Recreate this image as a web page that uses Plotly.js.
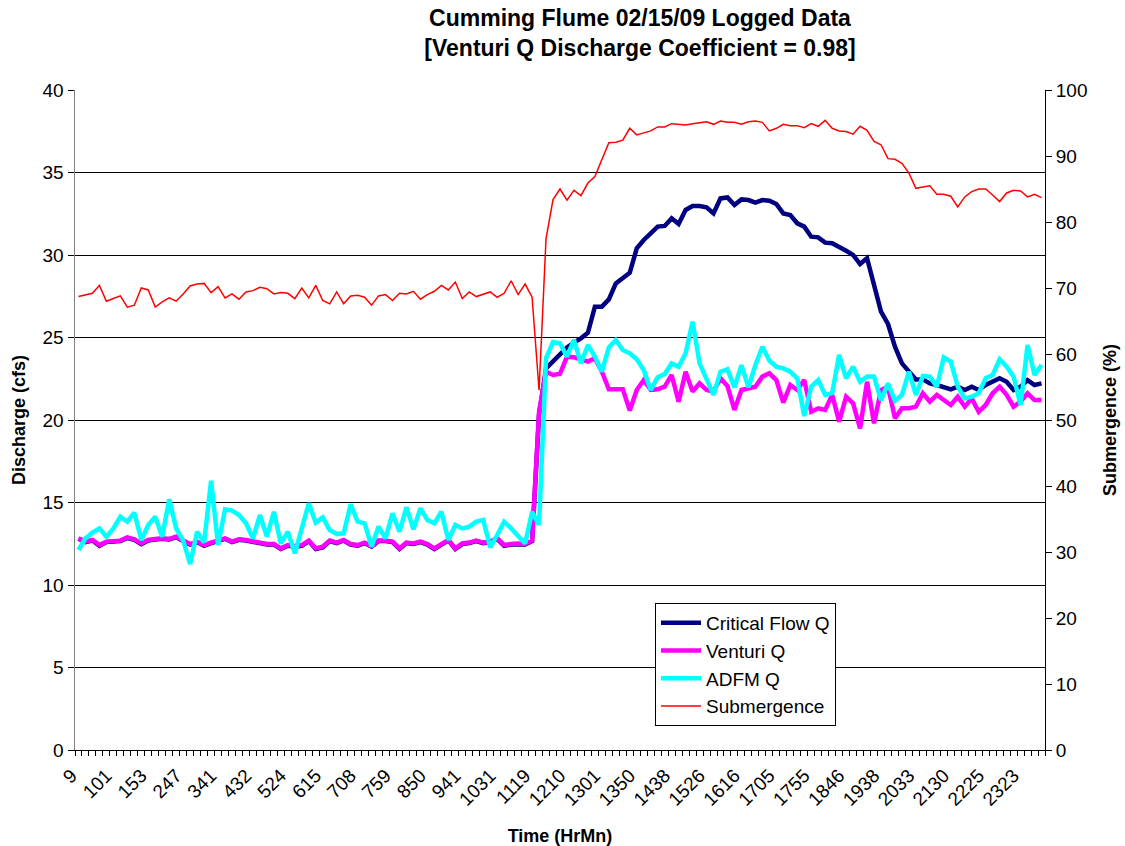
<!DOCTYPE html>
<html>
<head>
<meta charset="utf-8">
<script src="https://cdn.plot.ly/plotly-3.0.1.min.js"></script>
<style>html,body{margin:0;padding:0;background:#fff;}</style>
</head>
<body>
<div id="chart" style="width:1125px;height:846px;"></div>
<script>
const timeLabels = ["9","101","153","247","341","432","524","615","708","759","850","941","1031","1119","1210","1301","1350","1438","1526","1616","1705","1755","1846","1938","2033","2130","2225","2323"];

const criticalQ = [
12.80,12.60,12.70,12.38,12.60,12.66,12.66,12.85,12.74,12.48,
12.70,12.76,12.80,12.76,12.90,12.66,12.45,12.60,12.38,12.54,
12.70,12.80,12.60,12.74,12.70,12.60,12.48,12.45,12.45,12.18,
12.38,12.33,12.38,12.66,12.18,12.28,12.66,12.54,12.70,12.45,
12.38,12.54,12.33,12.66,12.66,12.60,12.18,12.54,12.48,12.60,
12.45,12.18,12.45,12.70,12.18,12.48,12.54,12.66,12.54,12.60,
12.80,12.38,12.45,12.48,12.45,12.66,20.30,23.13,23.54,24.04,
24.40,24.69,24.95,25.29,26.87,26.87,27.31,28.28,28.65,28.93,
30.40,30.91,31.31,31.72,31.76,32.22,31.88,32.73,32.97,32.97,
32.89,32.52,33.43,33.49,33.03,33.37,33.33,33.17,33.33,33.29,
33.09,32.52,32.42,31.92,31.72,31.11,31.07,30.75,30.71,30.51,
30.26,30.00,29.45,29.80,28.08,26.57,25.82,24.44,23.43,22.93,
22.46,22.46,22.22,22.12,22.02,21.86,22.02,21.82,22.02,21.82,
22.12,22.32,22.53,22.32,21.82,22.02,22.42,22.12,22.22];

const venturiQ = [
12.83,12.63,12.73,12.42,12.63,12.69,12.69,12.89,12.77,12.52,
12.73,12.79,12.83,12.79,12.93,12.69,12.48,12.63,12.42,12.57,
12.73,12.83,12.63,12.77,12.73,12.63,12.52,12.48,12.48,12.22,
12.42,12.36,12.42,12.69,12.22,12.32,12.69,12.57,12.73,12.48,
12.42,12.57,12.36,12.69,12.69,12.63,12.22,12.57,12.52,12.63,
12.48,12.22,12.48,12.73,12.22,12.52,12.57,12.69,12.57,12.63,
12.83,12.42,12.48,12.52,12.48,12.70,20.50,22.93,22.73,22.80,
23.84,23.80,23.68,23.54,23.74,22.93,21.86,21.86,21.86,20.57,
21.82,22.42,21.82,21.86,22.02,22.73,21.11,22.93,21.72,22.22,
21.82,21.72,22.53,22.06,20.61,21.82,21.92,22.02,22.63,22.83,
22.42,21.05,22.12,21.82,22.42,20.50,20.71,20.61,21.52,19.90,
21.41,21.01,19.49,22.32,19.80,21.82,22.02,20.10,20.71,20.71,
20.81,21.62,21.11,21.52,21.21,20.91,21.41,20.81,21.31,20.50,
20.91,21.62,22.02,21.52,20.81,21.11,21.62,21.21,21.21];

const adfmQ = [
12.12,12.83,13.17,13.43,12.93,13.43,14.14,13.84,14.38,12.73,
13.64,14.14,12.93,15.19,13.43,12.69,11.27,13.23,12.57,16.32,
12.42,14.59,14.51,14.24,13.74,12.83,14.24,12.93,14.44,12.52,
13.23,11.92,13.43,14.95,13.78,14.10,13.33,13.09,13.13,14.89,
13.84,13.74,12.32,13.54,12.83,14.34,13.23,14.71,13.37,14.65,
13.94,13.74,14.44,12.73,13.64,13.43,13.54,13.84,13.94,12.28,
13.03,13.84,13.43,12.93,12.52,14.44,13.64,23.74,24.73,24.65,
23.84,24.85,23.43,24.55,23.84,22.93,24.40,24.85,24.24,24.04,
23.68,23.03,21.82,22.59,22.79,23.43,23.23,24.04,25.96,23.43,
22.53,21.52,22.93,23.07,21.98,23.33,21.98,23.33,24.44,23.60,
23.23,23.13,22.93,22.53,20.24,22.02,22.42,21.52,21.62,23.94,
22.53,23.23,22.32,22.63,22.63,21.21,22.22,21.17,21.52,22.93,
21.52,22.67,22.63,22.02,23.80,23.54,22.02,21.31,21.41,21.62,
22.53,22.73,23.68,23.23,22.63,20.91,24.55,22.73,23.33];

const submergence = [
68.7,69.0,69.2,70.4,68.0,68.4,68.8,67.1,67.4,70.0,
69.7,67.1,67.9,68.5,68.0,69.1,70.3,70.6,70.7,69.3,
70.2,68.5,69.1,68.3,69.4,69.6,70.1,69.9,69.1,69.3,
69.2,68.4,70.0,68.5,70.4,68.1,67.6,69.4,67.6,68.8,
68.9,68.6,67.4,68.8,69.0,68.1,69.2,69.1,69.5,68.3,
69.0,69.5,70.4,69.7,70.9,68.4,69.4,68.7,69.1,69.4,
68.6,69.2,71.1,69.0,70.6,68.6,54.5,77.5,83.4,85.0,
83.3,84.8,84.0,85.9,86.9,89.6,92.0,92.1,92.4,94.2,
93.2,93.5,93.8,94.4,94.4,94.9,94.8,94.7,94.9,95.1,
95.2,94.8,95.3,95.1,95.1,94.8,95.2,95.3,95.1,93.8,
94.2,94.8,94.6,94.6,94.3,94.9,94.5,95.4,94.2,93.8,
93.7,93.3,94.5,93.9,92.2,91.7,89.6,89.5,88.9,87.4,
85.1,85.3,85.5,84.2,84.2,83.9,82.3,83.8,84.6,85.0,
85.0,84.1,83.1,84.4,84.8,84.7,83.8,84.2,83.7];

const labelEvery = 5;
const n = venturiQ.length;
const idx = venturiQ.map((_, i) => i);
const tickVals = timeLabels.map((_, k) => k * labelEvery);
const boundaries = [];
for (let i = 0; i <= n; i++) boundaries.push(i - 0.5);

const FONT = 'Arial, "Liberation Sans", sans-serif';

const traces = [
  {x: idx, y: criticalQ, name: 'Critical Flow Q', mode: 'lines', line: {color: '#000080', width: 4.5}, legendgroup: 'a'},
  {x: idx, y: venturiQ, name: 'Venturi Q', mode: 'lines', line: {color: '#FF00FF', width: 4.5}, legendgroup: 'b'},
  {x: idx, y: adfmQ, name: 'ADFM Q', mode: 'lines', line: {color: '#00FFFF', width: 4.5}, legendgroup: 'c'},
  {x: idx, y: submergence, name: 'Submergence', mode: 'lines', line: {color: '#FF0000', width: 1.5}, yaxis: 'y2', legendgroup: 'd'}
];

const layout = {
  width: 1125, height: 846,
  margin: {l: 75, r: 80, t: 90, b: 96},
  paper_bgcolor: '#fff', plot_bgcolor: '#fff',
  font: {family: FONT, size: 18, color: '#000'},
  title: {
    text: '<b>Cumming Flume 02/15/09 Logged Data<br>[Venturi Q Discharge Coefficient = 0.98]</b>',
    font: {family: FONT, size: 23, color: '#000'},
    x: 640 / 1125, xref: 'container', xanchor: 'center',
    y: 1 - 26 / 846, yref: 'container', yanchor: 'middle'
  },
  xaxis: {
    range: [-0.5, n - 0.5],
    tickmode: 'array', tickvals: tickVals, ticktext: timeLabels,
    tickangle: -45, ticks: '', tickfont: {family: FONT, size: 19},
    ticklabelstandoff: 6, ticklabelshift: -7,
    showline: true, linecolor: '#000', linewidth: 1,
    showgrid: false, zeroline: false,
    minor: {tickmode: 'array', tickvals: boundaries, ticks: 'outside', ticklen: 5, tickcolor: '#000', tickwidth: 1, showgrid: false},
    title: {text: '<b>Time (HrMn)</b>', font: {family: FONT, size: 18}, standoff: 26},
    automargin: false
  },
  yaxis: {
    range: [0, 40], tickmode: 'linear', tick0: 0, dtick: 5,
    ticks: 'outside', ticklen: 6, tickcolor: '#000',
    showgrid: true, gridcolor: '#000', gridwidth: 1,
    showline: true, linecolor: '#808080', linewidth: 1.5,
    zeroline: false, tickfont: {family: FONT, size: 19},
    title: {text: '<b>Discharge (cfs)</b>', font: {family: FONT, size: 18}, standoff: 12},
    automargin: false
  },
  yaxis2: {
    range: [0, 100], tickmode: 'linear', tick0: 0, dtick: 10,
    overlaying: 'y', side: 'right', anchor: 'x',
    ticks: 'outside', ticklen: 6, tickcolor: '#000',
    showgrid: false, zeroline: false,
    showline: true, linecolor: '#000', linewidth: 1,
    tickfont: {family: FONT, size: 19},
    title: {text: '<b>Submergence (%)</b>', font: {family: FONT, size: 18}, standoff: 16},
    automargin: false
  },
  showlegend: true,
  legend: {
    x: (655 - 75) / 970, y: (750 - 603) / 660, xanchor: 'left', yanchor: 'top',
    bgcolor: '#fff', bordercolor: '#000', borderwidth: 1,
    font: {family: FONT, size: 19, color: '#000'},
    traceorder: 'grouped', tracegroupgap: 0, itemwidth: 40
  }
};

Plotly.newPlot('chart', traces, layout, {displayModeBar: false, staticPlot: true});
</script>
</body>
</html>
